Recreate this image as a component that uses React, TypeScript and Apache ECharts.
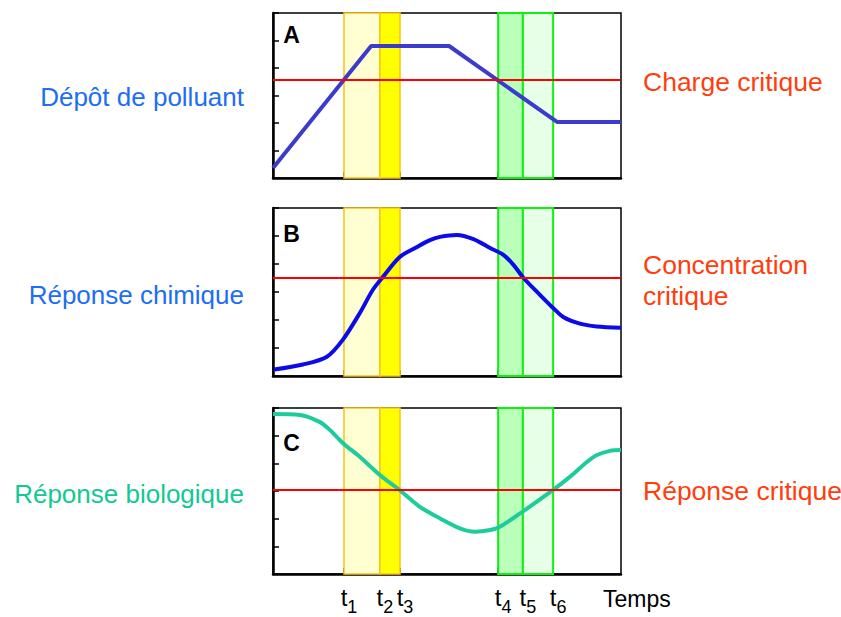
import React, { useEffect, useRef } from "react";
import * as echarts from "echarts";

// ---- data ----
const tValues = [20.4, 30.7, 36.5, 64.7, 71.8, 80.5];
const tSubs = ["1", "2", "3", "4", "5", "6"];

const depositX = [0, 28.2, 50.6, 81.6, 100];
const depositY = [0.36, 4.8, 4.8, 2.04, 2.04];

const chemX = [0.3, 8.6, 15.5, 20.1, 25.0, 28.7, 31.6, 36.5, 41.4, 45.1, 48.0, 52.8, 57.6, 62.4, 66.2, 69.1, 72.0, 76.7, 80.5, 83.4, 88.2, 93.0, 100];
const chemY = [0.23, 0.41, 0.69, 1.3, 2.26, 3.08, 3.54, 4.26, 4.61, 4.85, 4.97, 5.04, 4.89, 4.57, 4.33, 3.97, 3.5, 2.9, 2.43, 2.11, 1.87, 1.77, 1.72];

const bioX = [0, 7.8, 13.5, 16.4, 20.1, 25.0, 30.7, 36.5, 42.2, 48.0, 53.7, 58.0, 62.4, 65.2, 71.0, 80.5, 85.3, 90.2, 93.1, 96.8, 100];
const bioY = [5.78, 5.75, 5.49, 5.2, 4.73, 4.23, 3.58, 3.02, 2.43, 2.01, 1.65, 1.53, 1.59, 1.71, 2.19, 3.04, 3.51, 4.05, 4.3, 4.45, 4.48];

const criticalLevels = [3.56, 3.5, 3.04];
const panelLetters = ["A", "B", "C"];
const leftLabels = ["Dépôt de polluant", "Réponse chimique", "Réponse biologique"];
const rightLabels = ["Charge critique", "Concentration\ncritique", "Réponse critique"];
const xLabel = "Temps";

const FONT = "'Liberation Sans', Arial, Helvetica, sans-serif";

export default function App() {
  const ref = useRef<HTMLDivElement>(null);
  useEffect(() => {
    if (!ref.current) return;
    const chart = echarts.init(ref.current, null, { renderer: "svg" });

    const grids = [
      { left: 273, top: 13, width: 348, height: 165 },
      { left: 273, top: 208, width: 348, height: 168 },
      { left: 273, top: 408, width: 348, height: 166 },
    ];
    const lineColors = ["#3b3bcc", "#0b0bea", "#1ecb9c"];
    const leftColors = ["#1c6ef2", "#1c6ef2", "#12c893"];
    const labelY = [97, 295, 494];
    const letterY = [35, 234, 443];
    const rightY = [82, 280, 491];

    const seriesData = [
      depositX.map((x, i) => [x, depositY[i]]),
      chemX.map((x, i) => [x, chemY[i]]),
      bioX.map((x, i) => [x, bioY[i]]),
    ];

    const yellowBorder = "#f9c21b";
    const greenBorder = "#10f010";
    const bands = [
      [{ xAxis: tValues[0], itemStyle: { color: "#ffffd2", borderColor: yellowBorder, borderWidth: 1.5 } }, { xAxis: tValues[1] }],
      [{ xAxis: tValues[1], itemStyle: { color: "#ffff00", borderColor: yellowBorder, borderWidth: 1.5 } }, { xAxis: tValues[2] }],
      [{ xAxis: tValues[3], itemStyle: { color: "#baffba", borderColor: greenBorder, borderWidth: 2 } }, { xAxis: tValues[4] }],
      [{ xAxis: tValues[4], itemStyle: { color: "#e6ffe6", borderColor: greenBorder, borderWidth: 2 } }, { xAxis: tValues[5] }],
    ];

    const xAxes = grids.map((_, i) => ({
      type: "value",
      gridIndex: i,
      min: 0,
      max: 100,
      axisLine: { show: true, onZero: false, lineStyle: { color: "#000", width: 2.5 } },
      axisTick: { show: true, inside: true, length: 6, customValues: tValues, lineStyle: { color: "#000", width: 1.5 } },
      splitLine: { show: false },
      axisLabel: i === 2
        ? {
            show: true,
            customValues: tValues,
            margin: 4,
            formatter: (v: number) => {
              const idx = tValues.findIndex((t) => Math.abs(t - v) < 1e-6);
              return `{t|t}{s|${tSubs[idx] ?? ""}}`;
            },
            rich: {
              t: { fontSize: 24, fontFamily: FONT, color: "#000", padding: [0, 0, 0, 10] },
              s: { fontSize: 18, fontFamily: FONT, color: "#000", padding: [20, 0, 0, 0] },
            },
          }
        : { show: false },
    }));

    const yAxes = grids.map((_, i) => ({
      type: "value",
      gridIndex: i,
      min: 0,
      max: 6,
      interval: 1,
      axisLine: { show: true, onZero: false, lineStyle: { color: "#000", width: 2.5 } },
      axisTick: { show: true, inside: true, length: 6, lineStyle: { color: "#000", width: 1.5 } },
      splitLine: { show: false },
      axisLabel: { show: false },
    }));

    const series = grids.map((_, i) => ({
      type: "line",
      xAxisIndex: i,
      yAxisIndex: i,
      data: seriesData[i],
      smooth: i === 0 ? false : 0.3,
      showSymbol: false,
      symbol: "none",
      lineStyle: { color: lineColors[i], width: 4 },
      z: 3,
      markArea: { silent: true, data: bands },
      markLine: {
        silent: true,
        symbol: "none",
        label: { show: false },
        lineStyle: { color: "#ff0000", width: 2, type: "solid" },
        data: [{ yAxis: criticalLevels[i] }],
      },
    }));

    const graphics: any[] = [];
    for (let i = 0; i < 3; i++) {
      graphics.push({
        type: "text",
        x: 291.5,
        y: letterY[i],
        style: { text: panelLetters[i], fill: "#000", fontSize: 23, fontWeight: "bold", fontFamily: FONT, align: "center", verticalAlign: "middle", textAlign: "center", textVerticalAlign: "middle" },
        z: 10,
      });
      graphics.push({
        type: "text",
        x: 244,
        y: labelY[i],
        style: { text: leftLabels[i], fill: leftColors[i], fontSize: 26, fontFamily: FONT, align: "right", verticalAlign: "middle", textAlign: "right", textVerticalAlign: "middle" },
      });
      graphics.push({
        type: "text",
        x: 643,
        y: rightY[i],
        style: { text: rightLabels[i], fill: "#ff3d0d", fontSize: 26.5, fontFamily: FONT, lineHeight: 31, align: "left", verticalAlign: "middle", textAlign: "left", textVerticalAlign: "middle" },
      });
    }
    graphics.push({
      type: "text",
      x: 603,
      y: 599,
      style: { text: xLabel, fill: "#000", fontSize: 23, fontFamily: FONT, align: "left", verticalAlign: "middle", textAlign: "left", textVerticalAlign: "middle" },
    });

    chart.setOption({
      animation: false,
      backgroundColor: "#fff",
      grid: grids.map((g) => ({ ...g, show: true, borderColor: "#000", borderWidth: 1.5, backgroundColor: "transparent" })),
      xAxis: xAxes,
      yAxis: yAxes,
      series,
      graphic: graphics,
    });

    return () => chart.dispose();
  }, []);

  return <div ref={ref} style={{ position: "absolute", left: 0, top: 0, width: 841, height: 617 }} />;
}
